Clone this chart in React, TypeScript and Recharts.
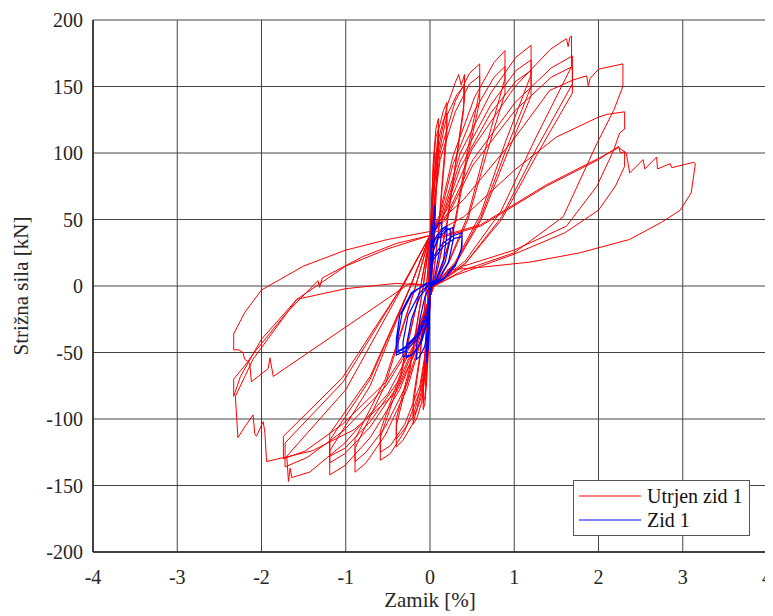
import React from "react";
import {
  ScatterChart,
  Scatter,
  XAxis,
  YAxis,
  CartesianGrid,
  Legend,
} from "recharts";

type Pt = [number, number];

// Utrjen zid 1 (red) - cycles, [drift %, force kN]
const redC1: Pt[] = [[0, 0], [0.01, 30], [0.02, 55], [0.03, 75], [0.03, 65], [0.02, 30], [0.01, 5], [0, -5], [-0.01, -30], [-0.02, -50], [-0.03, -62], [-0.03, -52], [-0.02, -25], [-0.01, 0]];
const redC2: Pt[] = [[0, 10], [0.01, 40], [0.03, 75], [0.05, 95], [0.06, 100], [0.06, 88], [0.04, 50], [0.02, 15], [0.01, 0], [0, -10], [-0.02, -40], [-0.04, -65], [-0.05, -75], [-0.05, -65], [-0.03, -30], [-0.01, 0]];
const redC3: Pt[] = [[0, 20], [0.02, 60], [0.04, 95], [0.07, 118], [0.1, 126], [0.1, 112], [0.07, 70], [0.04, 30], [0.02, 5], [0, -10], [-0.02, -45], [-0.04, -72], [-0.06, -88], [-0.08, -93], [-0.08, -80], [-0.05, -40], [-0.02, 0]];
const redC4: Pt[] = [[0, 25], [0.02, 62], [0.04, 92], [0.07, 112], [0.1, 118], [0.1, 104], [0.07, 65], [0.04, 28], [0.02, 4], [0, -10], [-0.02, -42], [-0.04, -68], [-0.06, -83], [-0.08, -88], [-0.08, -76], [-0.05, -38], [-0.02, 0]];
const redC5: Pt[] = [[0, 30], [0.02, 55], [0.06, 90], [0.1, 117], [0.16, 132], [0.2, 138], [0.2, 121], [0.15, 83], [0.1, 41], [0.05, 14], [0.03, 0], [0, -8], [-0.02, -42], [-0.06, -68], [-0.1, -88], [-0.16, -100], [-0.2, -104], [-0.2, -90], [-0.12, -55], [-0.04, 0]];
const redC6: Pt[] = [[0, 32], [0.02, 52], [0.06, 85], [0.1, 110], [0.16, 125], [0.2, 130], [0.2, 114], [0.15, 78], [0.1, 39], [0.05, 13], [0.03, 0], [0, -8], [-0.02, -39], [-0.06, -64], [-0.1, -83], [-0.16, -94], [-0.2, -98], [-0.2, -85], [-0.12, -52], [-0.04, 0]];
const redC7: Pt[] = [[0, 35], [0.02, 64], [0.1, 103], [0.2, 135], [0.3, 153], [0.34, 159], [0.37, 151], [0.41, 159], [0.41, 140], [0.31, 95], [0.2, 48], [0.1, 16], [0.04, 0], [0, -8], [-0.02, -48], [-0.1, -79], [-0.2, -103], [-0.32, -116], [-0.4, -121], [-0.4, -105], [-0.24, -64], [-0.08, 0]];
const redC8: Pt[] = [[0, 36], [0.02, 60], [0.1, 98], [0.2, 128], [0.32, 144], [0.4, 150], [0.4, 132], [0.3, 90], [0.2, 45], [0.1, 15], [0.04, 0], [0, -8], [-0.02, -46], [-0.1, -75], [-0.2, -98], [-0.32, -109], [-0.4, -115], [-0.4, -100], [-0.24, -61], [-0.08, 0]];
const redC9: Pt[] = [[0, 38], [0.04, 58], [0.12, 100], [0.3, 139], [0.47, 160], [0.59, 167], [0.59, 147], [0.44, 100], [0.3, 50], [0.15, 17], [0.04, 0], [0, -8], [-0.04, -46], [-0.12, -79], [-0.3, -109], [-0.47, -126], [-0.59, -131], [-0.59, -114], [-0.35, -69], [-0.11, 0]];
const redC10: Pt[] = [[0, 38], [0.04, 55], [0.12, 95], [0.3, 131], [0.47, 152], [0.59, 158], [0.59, 139], [0.44, 95], [0.3, 47], [0.15, 16], [0.04, 0], [0, -8], [-0.04, -44], [-0.12, -75], [-0.3, -104], [-0.47, -120], [-0.59, -125], [-0.59, -109], [-0.35, -66], [-0.11, 0]];
const redC11: Pt[] = [[0, 38], [0.11, 53], [0.27, 97], [0.53, 142], [0.76, 168], [0.89, 177], [0.89, 156], [0.67, 106], [0.45, 53], [0.22, 18], [0.04, 0], [0, -8], [-0.11, -42], [-0.27, -77], [-0.53, -112], [-0.76, -133], [-0.89, -140], [-0.89, -122], [-0.53, -74], [-0.17, 0]];
const redC12: Pt[] = [[0, 38], [0.11, 50], [0.27, 91], [0.53, 132], [0.76, 157], [0.89, 165], [0.89, 145], [0.67, 99], [0.45, 50], [0.22, 17], [0.04, 0], [0, -8], [-0.11, -40], [-0.27, -73], [-0.53, -106], [-0.76, -125], [-0.89, -132], [-0.89, -115], [-0.53, -70], [-0.17, 0]];
const redC13: Pt[] = [[0, 38], [0.14, 54], [0.36, 100], [0.72, 145], [1.02, 172], [1.2, 181], [1.2, 159], [0.9, 109], [0.6, 54], [0.3, 18], [0.04, 0], [0, -8], [-0.14, -43], [-0.36, -78], [-0.71, -114], [-1.01, -135], [-1.19, -142], [-1.19, -124], [-0.71, -75], [-0.23, 0]];
const redC14: Pt[] = [[0, 38], [0.14, 51], [0.36, 94], [0.72, 136], [1.02, 162], [1.2, 170], [1.2, 150], [0.9, 102], [0.6, 51], [0.3, 17], [0.04, 0], [0, -8], [-0.14, -40], [-0.36, -73], [-0.71, -106], [-1.01, -126], [-1.19, -133], [-1.19, -116], [-0.71, -70], [-0.23, 0]];
const redC15: Pt[] = [[0, 38], [0.14, 49], [0.36, 89], [0.72, 130], [1.02, 154], [1.2, 162], [1.2, 143], [0.9, 97], [0.6, 49], [0.3, 16], [0.04, 0], [0, -8], [-0.14, -38], [-0.36, -70], [-0.71, -102], [-1.01, -122], [-1.19, -128], [-1.19, -111], [-0.71, -68], [-0.23, 0]];
const redC16: Pt[] = [[0, 38], [0.19, 56], [0.5, 103], [1.01, 150], [1.43, 178], [1.62, 186], [1.64, 180], [1.66, 187], [1.68, 188], [1.68, 165], [1.26, 112], [0.84, 56], [0.42, 19], [0.04, 0], [0, -8], [-0.19, -44], [-0.5, -81], [-1.01, -118], [-1.43, -140], [-1.64, -144], [-1.66, -137], [-1.68, -147], [-1.7, -128], [-1.0, -78], [-0.32, 0]];
const redC17: Pt[] = [[0, 38], [0.19, 52], [0.51, 95], [1.01, 138], [1.44, 164], [1.69, 173], [1.69, 152], [1.27, 104], [0.85, 52], [0.42, 17], [0.04, 0], [0, -8], [-0.19, -41], [-0.52, -75], [-1.03, -109], [-1.46, -129], [-1.72, -136], [-1.72, -118], [-1.03, -72], [-0.33, 0]];
const redC18: Pt[] = [[0, 38], [0.19, 50], [0.51, 91], [1.01, 132], [1.44, 157], [1.69, 165], [1.69, 145], [1.27, 99], [0.85, 50], [0.42, 17], [0.04, 0], [0, -8], [-0.19, -39], [-0.52, -72], [-1.04, -104], [-1.48, -124], [-1.74, -130], [-1.74, -113], [-1.04, -69], [-0.33, 0]];
const redC19: Pt[] = [[0, 38], [0.05, 45], [0.4, 65], [0.99, 110], [1.42, 147], [1.7, 155], [1.86, 158], [1.88, 150], [1.9, 156], [2.0, 163], [2.29, 167], [2.29, 150], [2.18, 132], [1.98, 107], [1.58, 52], [1.0, 25], [0.4, 12], [0.05, 0], [0, -8], [-0.1, -40], [-0.4, -80], [-0.9, -108], [-1.4, -124], [-1.94, -132], [-1.96, -110], [-1.98, -102], [-2.06, -113], [-2.08, -111], [-2.1, -97], [-2.2, -106], [-2.28, -114], [-2.31, -83], [-2.1, -55], [-1.58, -10], [-1.0, 15], [-0.5, 28], [0, 38]];
const redC20: Pt[] = [[0, 38], [0.05, 40], [0.4, 52], [1.0, 87], [1.5, 112], [2.0, 127], [2.1, 129], [2.31, 131], [2.31, 118], [2.25, 115], [2.18, 102], [1.98, 75], [1.62, 45], [1.0, 27], [0.4, 15], [0.05, 0], [-0.4, 2], [-1.0, -2], [-1.58, -10], [-2.0, -40], [-2.25, -68], [-2.33, -83], [-2.33, -70], [-2.2, -60], [-2.06, -48], [-1.7, -20], [-1.33, 4], [-1.31, -1], [-1.28, 6], [-0.8, 22], [-0.4, 32], [0, 38]];
const redC21: Pt[] = [[0, 38], [0.05, 35], [0.6, 45], [1.38, 75], [2.0, 95], [2.24, 105], [2.26, 100], [2.31, 101], [2.31, 90], [2.2, 75], [2.0, 57], [1.6, 40], [1.0, 24], [0.3, 8], [0.05, 0], [-0.24, 2], [-1.86, -68], [-1.9, -54], [-1.92, -62], [-2.12, -72], [-2.14, -58], [-2.2, -55], [-2.22, -50], [-2.27, -48], [-2.33, -48], [-2.33, -36], [-2.2, -20], [-2.0, -3], [-1.5, 15], [-1.0, 27], [-0.5, 35], [0, 41]];
const redC22: Pt[] = [[0, 41], [0.05, 36], [0.6, 46], [1.38, 76], [2.0, 96], [2.24, 104], [2.33, 100], [2.37, 85], [2.53, 95], [2.55, 88], [2.69, 97], [2.7, 88], [2.85, 92], [2.87, 89], [3.13, 93], [3.15, 92], [3.1, 70], [2.97, 57], [2.75, 48], [2.37, 35], [1.78, 25], [1.19, 18], [0.59, 14], [0.2, 12]];

// Zid 1 (blue)
const blueC1: Pt[] = [[0, 0], [0.005, 20], [0.01, 35], [0.01, 28], [0.005, 5], [0, -5], [-0.005, -20], [-0.01, -32], [-0.01, -25], [-0.005, -5], [0, 0]];
const blueC2: Pt[] = [[0, 0], [0.01, 30], [0.02, 50], [0.02, 42], [0.01, 10], [0, -5], [-0.01, -30], [-0.02, -48], [-0.02, -40], [-0.01, -10], [0, 0]];
const blueC3: Pt[] = [[0, 2], [0.02, 35], [0.05, 55], [0.06, 61], [0.06, 52], [0.04, 25], [0.01, 3], [0, -5], [-0.01, -30], [-0.03, -50], [-0.04, -58], [-0.04, -48], [-0.02, -20], [0, 0]];
const blueC4: Pt[] = [[0, 2], [0.02, 30], [0.06, 42], [0.1, 47], [0.14, 48], [0.14, 42], [0.11, 25], [0.06, 8], [0.01, 0], [-0.01, -25], [-0.06, -45], [-0.12, -53], [-0.16, -55], [-0.16, -45], [-0.12, -25], [-0.06, -8], [0, 0]];
const blueC5: Pt[] = [[0, 2], [0.02, 28], [0.08, 38], [0.15, 43], [0.2, 45], [0.2, 38], [0.16, 20], [0.08, 6], [0.01, 0], [-0.02, -25], [-0.1, -42], [-0.2, -51], [-0.28, -54], [-0.28, -45], [-0.22, -25], [-0.12, -8], [0, 2]];
const blueC6: Pt[] = [[0, 2], [0.03, 25], [0.1, 36], [0.2, 42], [0.28, 44], [0.28, 36], [0.22, 18], [0.12, 6], [0.02, 0], [-0.03, -22], [-0.15, -38], [-0.3, -47], [-0.4, -50], [-0.4, -40], [-0.36, -22], [-0.22, -6], [-0.05, 2]];
const blueC7: Pt[] = [[0, 2], [0.04, 22], [0.15, 32], [0.28, 38], [0.38, 40], [0.38, 30], [0.32, 18], [0.18, 7], [0.02, 0], [-0.03, -22], [-0.15, -40], [-0.3, -49], [-0.4, -52], [-0.4, -42], [-0.36, -22], [-0.22, -5], [0, 3]];
const blueC8: Pt[] = [[0, 3], [0.04, 20], [0.16, 30], [0.3, 36], [0.38, 37], [0.37, 27], [0.3, 15], [0.16, 5], [0.02, 0], [-0.04, -20], [-0.16, -37], [-0.3, -46], [-0.38, -49], [-0.38, -38], [-0.33, -20], [-0.2, -4], [0, 3]];
const blueC9: Pt[] = [[0, 3], [0.03, 24], [0.1, 38], [0.18, 43], [0.24, 43], [0.24, 35], [0.18, 18], [0.08, 5], [0.01, 0], [-0.03, -24], [-0.12, -44], [-0.22, -52], [-0.32, -53], [-0.32, -42], [-0.26, -22], [-0.12, -5], [0, 2]];

const redCycles = [redC1, redC2, redC3, redC4, redC5, redC6, redC7, redC8, redC9, redC10, redC11, redC12, redC13, redC14, redC15, redC16, redC17, redC18, redC19, redC20, redC21, redC22];
const blueCycles = [blueC1, blueC2, blueC3, blueC4, blueC5, blueC9, blueC6, blueC7, blueC8];

const xTicks = [-4, -3, -2, -1, 0, 1, 2, 3, 4];
const yTicks = [-200, -150, -100, -50, 0, 50, 100, 150, 200];

const FONT = "Liberation Serif";

const toPoints = (cycles: Pt[][]) =>
  cycles.flat().map(([x, y]) => ({ x, y }));

const redData = toPoints(redCycles);
const blueData = toPoints(blueCycles);

const NoDot = () => <g />;

const YTitle = () => (
  <text
    x={20}
    y={278}
    transform="rotate(-90 20 278)"
    textAnchor="middle"
    style={{ fontFamily: FONT, fontSize: 21 }}
    fill="#262626"
  >
    Strižna sila [kN]
  </text>
);

const XTitle = () => (
  <text
    x={422}
    y={599}
    textAnchor="middle"
    style={{ fontFamily: FONT, fontSize: 21 }}
    fill="#262626"
  >
    Zamik [%]
  </text>
);

const LegendBox = () => (
  <div
    style={{
      position: "relative",
      width: 177,
      height: 56,
      border: "1px solid #555",
      background: "#fff",
      boxSizing: "border-box",
      fontFamily: FONT,
      fontSize: 20,
      color: "#111",
    }}
  >
    {[
      { name: "Utrjen zid 1", color: "#ff0000", top: 3 },
      { name: "Zid 1", color: "#0000ff", top: 27 },
    ].map((item) => (
      <div
        key={item.name}
        style={{
          position: "absolute",
          left: 5,
          top: item.top,
          height: 24,
          lineHeight: "24px",
          display: "flex",
          alignItems: "center",
          whiteSpace: "nowrap",
        }}
      >
        <svg width={62} height={4} style={{ marginRight: 6 }}>
          <line x1={0} y1={2} x2={62} y2={2} stroke={item.color} strokeWidth={1.2} />
        </svg>
        <span>{item.name}</span>
      </div>
    ))}
  </div>
);

const tickStyle = { fontFamily: FONT, fontSize: 20, fill: "#262626", style: { fontFamily: FONT } };

export default function App() {
  return (
    <div style={{ fontFamily: FONT }}>
      <ScatterChart
        width={765}
        height={608}
        margin={{ top: 12, right: 6, left: 25, bottom: 24 }}
        style={{ fontFamily: FONT, background: "#fff" }}
      >
        <CartesianGrid stroke="#444" strokeWidth={1} />
        <XAxis
          type="number"
          dataKey="x"
          domain={[-4, 4]}
          ticks={xTicks}
          allowDataOverflow
          height={40}
          tickSize={0}
          tickMargin={18}
          tickLine={false}
          axisLine={{ stroke: "#222", strokeWidth: 1.5 }}
          tick={tickStyle}
          label={<XTitle />}
        />
        <YAxis
          type="number"
          dataKey="y"
          domain={[-200, 200]}
          ticks={yTicks}
          allowDataOverflow
          width={60}
          tickSize={0}
          tickMargin={10}
          tickLine={false}
          axisLine={{ stroke: "#222", strokeWidth: 1.5 }}
          tick={tickStyle}
          label={<YTitle />}
        />
        <Legend
          layout="vertical"
          align="center"
          verticalAlign="middle"
          content={<LegendBox />}
          wrapperStyle={{ left: 565, top: 472, width: 177, height: 56 }}
        />
        <Scatter
          name="Utrjen zid 1"
          data={redData}
          line={{ stroke: "#ff0000", strokeWidth: 1 }}
          lineType="joint"
          shape={<NoDot />}
          fill="#ff0000"
          isAnimationActive={false}
        />
        <Scatter
          name="Zid 1"
          data={blueData}
          line={{ stroke: "#0000ff", strokeWidth: 1.2 }}
          lineType="joint"
          shape={<NoDot />}
          fill="#0000ff"
          isAnimationActive={false}
        />
      </ScatterChart>
    </div>
  );
}
